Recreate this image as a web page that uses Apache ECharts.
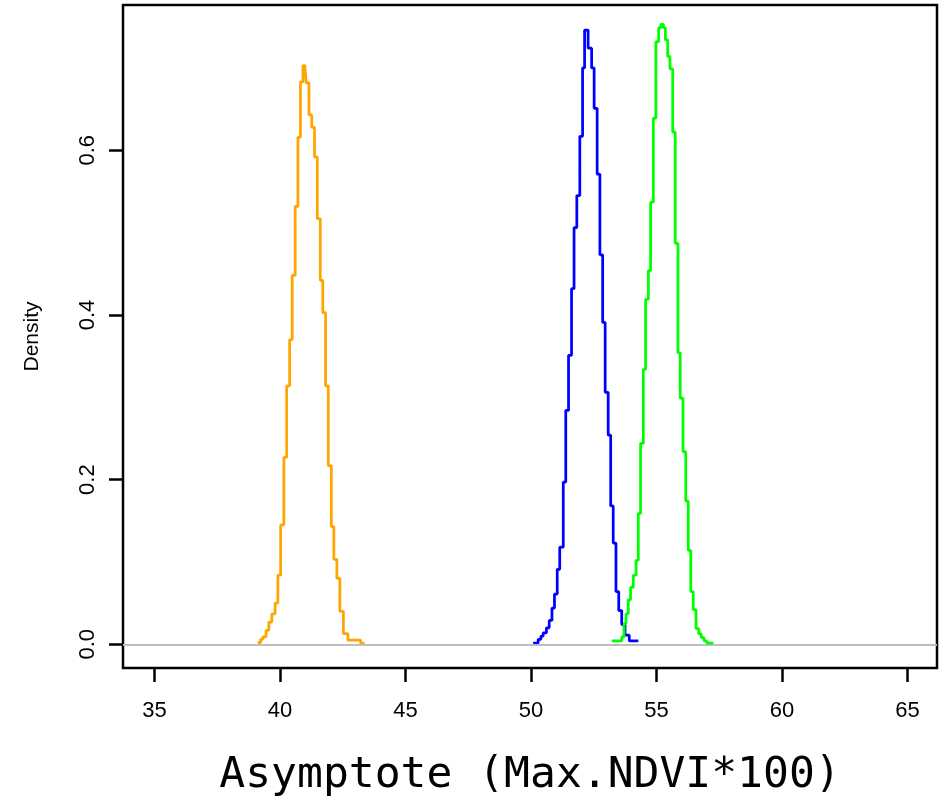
<!DOCTYPE html>
<html><head><meta charset="utf-8">
<script src="https://cdn.jsdelivr.net/npm/echarts@6/dist/echarts.min.js"></script>
<style>html,body{margin:0;padding:0;background:#fff}#c{width:944px;height:803px}</style>
</head><body><div id="c"></div>
<script>
// Histogram bin left edges (x) and densities (y)
const orangeX = [39.12,39.23,39.32,39.45,39.56,39.68,39.81,39.92,40.03,40.16,40.27,40.39,40.49,40.61,40.72,40.82,40.92,41.00,41.05,41.16,41.27,41.38,41.49,41.61,41.71,41.82,41.93,42.05,42.15,42.27,42.39,42.53,42.71,43.22,43.38];
const orangeY = [0.002,0.006,0.009,0.017,0.027,0.037,0.050,0.084,0.145,0.227,0.314,0.370,0.448,0.532,0.616,0.683,0.703,0.700,0.682,0.643,0.628,0.592,0.517,0.442,0.403,0.314,0.217,0.143,0.103,0.080,0.040,0.013,0.005,0.001,0.001];

const blueX = [50.09,50.29,50.40,50.49,50.62,50.73,50.84,50.94,51.05,51.15,51.29,51.39,51.50,51.62,51.72,51.83,51.95,52.06,52.14,52.28,52.42,52.52,52.64,52.75,52.86,52.96,53.08,53.18,53.28,53.39,53.50,53.62,53.75,53.92,54.28];
const blueY = [0.0015,0.006,0.010,0.014,0.020,0.029,0.044,0.061,0.091,0.118,0.197,0.284,0.351,0.432,0.506,0.545,0.617,0.700,0.746,0.724,0.700,0.651,0.571,0.473,0.391,0.306,0.254,0.168,0.123,0.064,0.041,0.024,0.011,0.004,0.004];

const greenX = [53.22,53.62,53.71,53.79,53.88,53.97,54.08,54.19,54.28,54.37,54.48,54.57,54.68,54.77,54.88,54.98,55.09,55.18,55.28,55.36,55.45,55.54,55.65,55.75,55.86,55.95,56.06,56.17,56.27,56.37,56.47,56.58,56.69,56.79,56.90,57.01,57.27];
const greenY = [0.004,0.009,0.025,0.037,0.054,0.069,0.084,0.102,0.159,0.244,0.334,0.419,0.454,0.537,0.639,0.732,0.749,0.753,0.749,0.734,0.714,0.699,0.622,0.487,0.354,0.299,0.234,0.174,0.114,0.064,0.042,0.019,0.0125,0.008,0.004,0.0015,0.0015];

const xTicks = [35,40,45,50,55,60,65];
const yTicks = [0,0.2,0.4,0.6];
const xTitle = 'Asymptote (Max.NDVI*100)';
const yTitle = 'Density';

const pairs = (xs, ys) => xs.map((x, i) => [x, ys[i]]);

const chart = echarts.init(document.getElementById('c'), null, {renderer: 'canvas'});
const lineSeries = (name, xs, ys, color, z) => ({
  name, type: 'line', step: 'end', data: pairs(xs, ys), showSymbol: false, symbol: 'none',
  lineStyle: {color, width: 2.75}, z, silent: true
});
const orange = lineSeries('orange', orangeX, orangeY, '#FFA500', 3);
orange.markLine = {
  silent: true, symbol: ['none', 'none'], label: {show: false},
  lineStyle: {color: '#BEBEBE', width: 2, type: 'solid'},
  data: [{yAxis: 0}]
};
chart.setOption({
  animation: false,
  backgroundColor: '#fff',
  grid: {left: 123, right: 7, top: 5, bottom: 135, show: true, borderColor: '#000', borderWidth: 2.5},
  xAxis: {
    type: 'value', min: 33.75, max: 66.18,
    axisLine: {show: false, onZero: false},
    axisTick: {show: true, inside: false, length: 14, lineStyle: {color: '#000', width: 2.5}, customValues: xTicks},
    axisLabel: {customValues: xTicks, fontFamily: 'Liberation Sans', fontSize: 22, color: '#000', margin: 32},
    splitLine: {show: false},
    name: xTitle, nameLocation: 'middle', nameGap: 86,
    nameTextStyle: {fontFamily: 'DejaVu Sans Mono', fontSize: 43, color: '#000'}
  },
  yAxis: {
    type: 'value', min: -0.0288, max: 0.7765,
    axisLine: {show: false, onZero: false},
    axisTick: {show: true, inside: false, length: 14, lineStyle: {color: '#000', width: 2.5}, customValues: yTicks},
    axisLabel: {customValues: yTicks, rotate: 90, fontFamily: 'Liberation Sans', fontSize: 22, color: '#000', margin: 24,
      formatter: v => Number(v).toFixed(1)},
    splitLine: {show: false},
    name: yTitle, nameLocation: 'middle', nameGap: 80, nameRotate: 90,
    nameTextStyle: {fontFamily: 'Liberation Sans', fontSize: 21, color: '#000'}
  },
  series: [
    orange,
    lineSeries('blue', blueX, blueY, '#0000FF', 4),
    lineSeries('green', greenX, greenY, '#00FF00', 5)
  ]
});
</script>
</body></html>
